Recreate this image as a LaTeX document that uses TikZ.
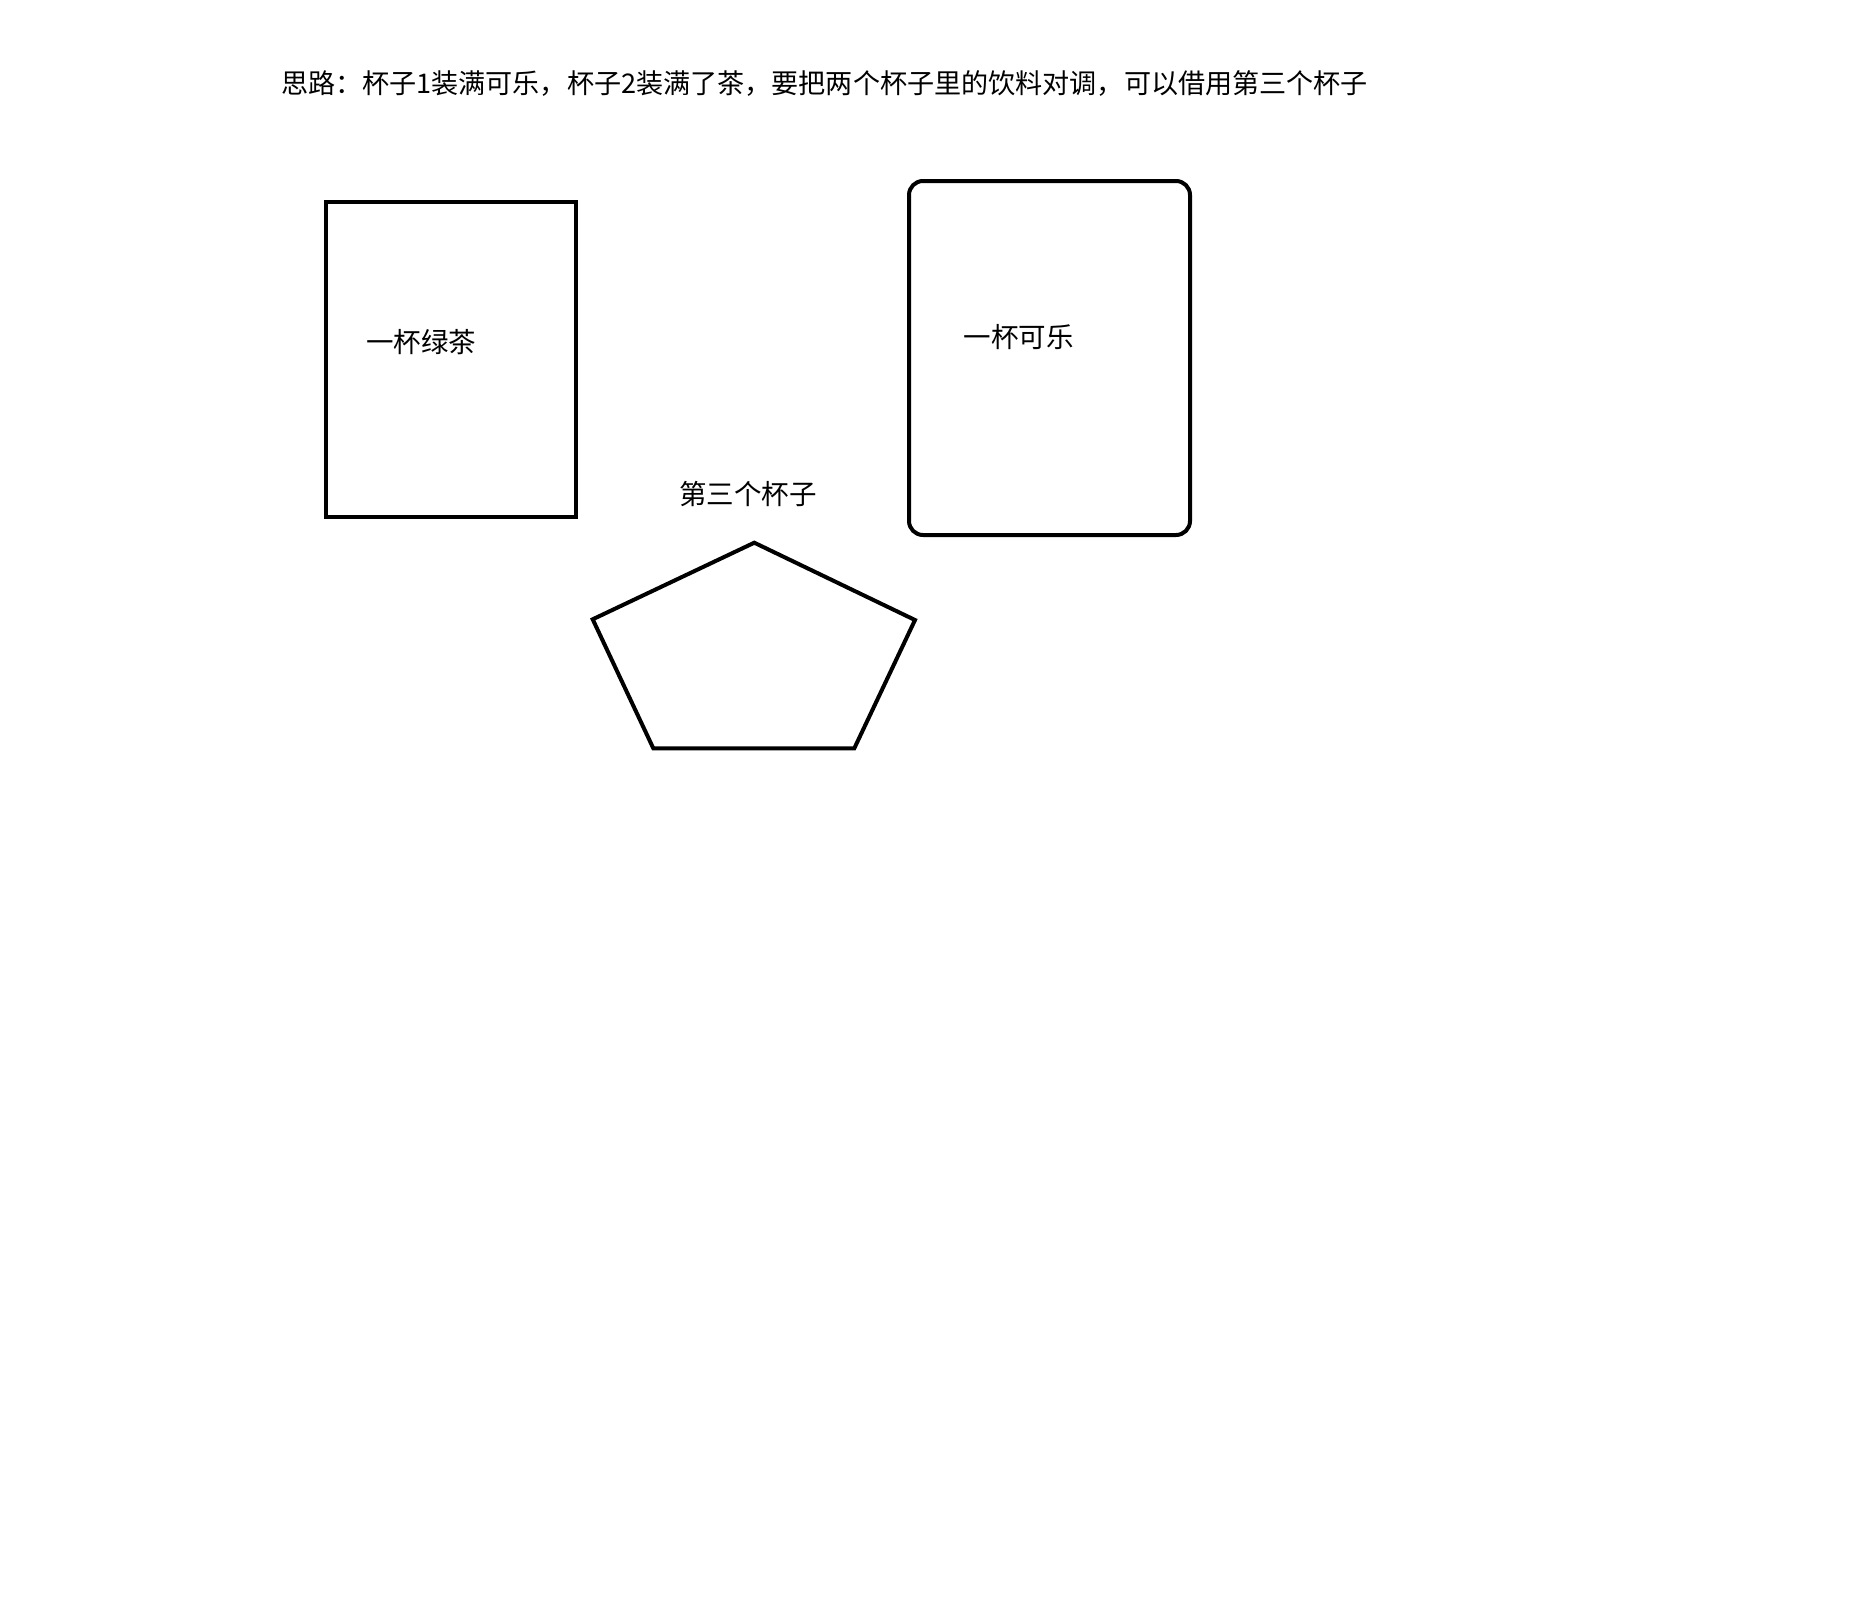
\documentclass[tikz,border=0pt]{standalone}
\usepackage{fontspec}
\setmainfont{Noto Sans CJK SC}
\begin{document}
\begin{tikzpicture}[x=1pt,y=-1pt,
  cup/.style={draw=black,line width=4pt,inner sep=0pt,outer sep=0pt,fill=none},
  lbl/.style={inner sep=0pt,font=\fontsize{27.5pt}{30pt}\selectfont,text=black},
  lj/.style={line join=miter}]
\useasboundingbox[fill=white] (0,0) rectangle (1874,1598);
\node[lbl,anchor=center,font=\fontsize{27.1pt}{30pt}\selectfont] (title) at (824.5,83) {思路：杯子1装满可乐，杯子2装满了茶，要把两个杯子里的饮料对调，可以借用第三个杯子};
\node[cup,minimum width=249.5pt,minimum height=315pt,anchor=north west] (cup1) at (326,202) {};
\node[cup,rounded corners=14pt,minimum width=281pt,minimum height=354pt,anchor=north west] (cup2) at (909,181) {};
\node[lbl] (l1) at (421,342) {一杯绿茶};
\node[lbl] (l2) at (1018.5,337) {一杯可乐};
\node[lbl] (l3) at (748,494) {第三个杯子};
\coordinate (p1) at (754.3,542.7);
\coordinate (p2) at (915,620);
\coordinate (p3) at (854.3,748.3);
\coordinate (p4) at (653.3,748.3);
\coordinate (p5) at (592.7,619.3);
\draw[line width=4pt,lj] (p1) -- (p2) -- (p3) -- (p4) -- (p5) -- cycle;
\end{tikzpicture}
\end{document}
